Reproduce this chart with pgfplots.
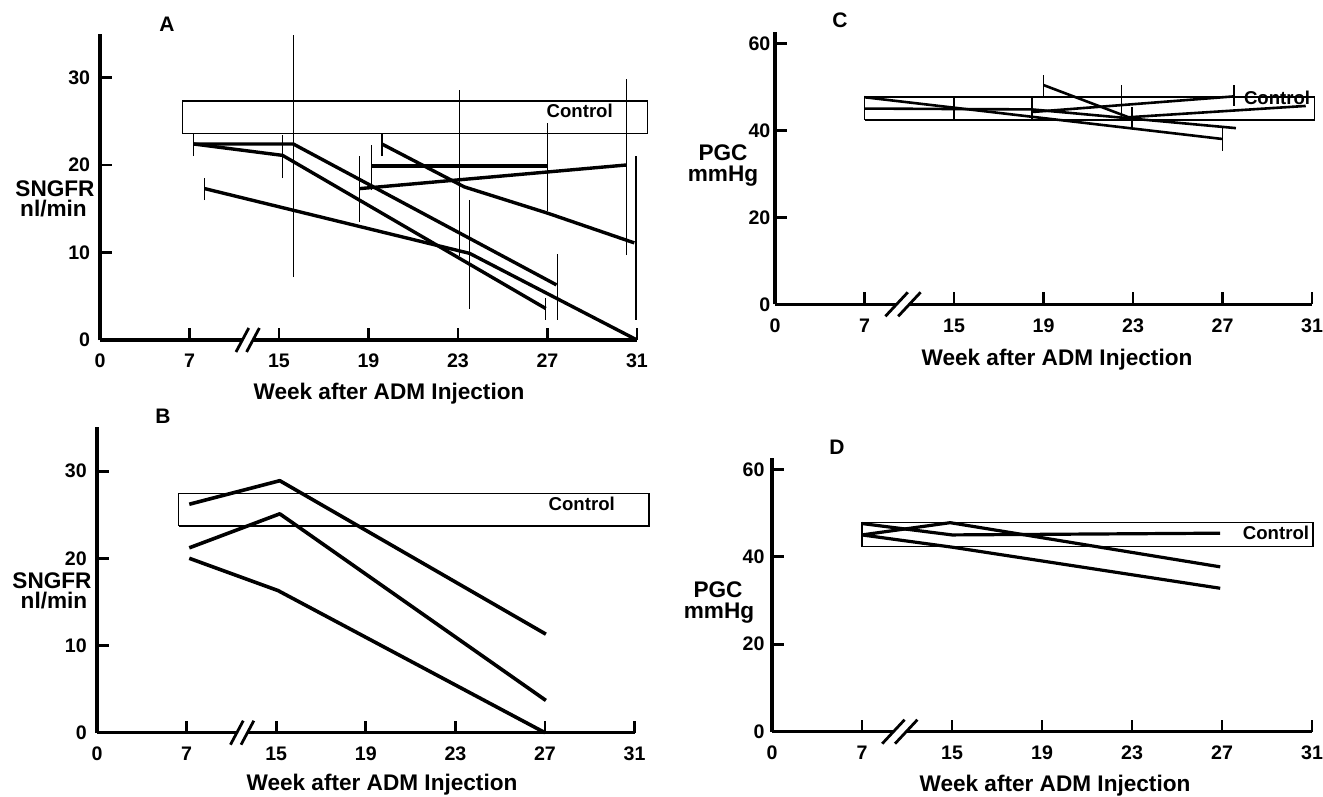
\documentclass[border=0pt]{standalone}
\usepackage{fontspec}
\setmainfont{Liberation Sans}
\usepackage{pgfplots}
\pgfplotsset{compat=1.18}

% x positions are tick slots: weeks 0,7,15,19,23,27,31 sit at x = 0..6
\pgfplotsset{
  panel/.style={
    anchor=south west, clip=false,
    xmin=0, xmax=6, ymin=0,
    axis lines=left,
    axis line style={-, line width=1.7pt},
    xtick={0,...,6}, xticklabels={0,7,15,19,23,27,31},
    tick align=inside, major tick length=6pt,
    tick style={black, line width=1.4pt},
    tick label style={font=\fontsize{9.8}{11}\selectfont\bfseries},
    xticklabel style={yshift=-3.6pt},
  },
  sng/.style={panel, ymax=35, ytick={0,10,20,30}, yticklabels={0,10,20,30}},
  pgc/.style={panel, ymax=62.5, ytick={0,20,40,60}, yticklabels={0,20,40,60}},
  data/.style={black, line width=1.7pt, line join=round, mark=none},
  bar/.style={black, line width=0.65pt, mark=none},
  ctrl/.style={black, line width=0.7pt, mark=none},
}
\tikzset{
  ctrltext/.style={font=\fontsize{9.3}{10}\selectfont\bfseries},
  lab/.style={font=\fontsize{11.3}{13}\selectfont\bfseries, anchor=base, inner sep=0pt},
  plet/.style={font=\fontsize{10.5}{12}\selectfont\bfseries},
}

\begin{document}
\begin{tikzpicture}
\useasboundingbox (0,0) rectangle (661.5pt,-398.5pt);

% ---------------- A ----------------
\begin{axis}[sng, at={(50pt,-170pt)}, x=44.75pt, y=4.375pt,
  yticklabel style={xshift=-1.4pt}]
\addplot[ctrl] coordinates {(0.92,23.6) (6.12,23.6) (6.12,27.3) (0.92,27.3) (0.92,23.6)};
\node[ctrltext] at (axis cs:5.36,26.2) {Control};
% error bars
\addplot[bar] coordinates {(1.047,21.0) (1.047,23.6)};
\addplot[bar] coordinates {(1.166,16.0) (1.166,18.5)};
\addplot[bar] coordinates {(2.04,18.5) (2.04,23.4)};
\addplot[bar] coordinates {(2.16,7.2) (2.16,34.9)};
\addplot[bar] coordinates {(2.90,13.5) (2.90,21.0)};
\addplot[bar] coordinates {(3.03,17.1) (3.03,22.3)};
\addplot[bar] coordinates {(3.15,21.0) (3.15,23.5)};
\addplot[bar] coordinates {(4.02,9.6) (4.02,28.6)};
\addplot[bar] coordinates {(4.13,3.6) (4.13,16.0)};
\addplot[bar] coordinates {(5.00,14.7) (5.00,24.8)};
\addplot[bar] coordinates {(4.98,2.3) (4.98,4.8)};
\addplot[bar] coordinates {(5.11,2.3) (5.11,9.8)};
\addplot[bar] coordinates {(5.88,9.7) (5.88,29.8)};
\addplot[bar] coordinates {(5.99,2.3) (5.99,21.0)};
% rats
\addplot[data] coordinates {(1.047,22.4) (2.16,22.4) (5.10,6.3)};
\addplot[data] coordinates {(1.047,22.4) (2.04,21.1) (4.98,3.6)};
\addplot[data] coordinates {(1.17,17.3) (4.13,9.9) (6.00,0.0)};
\addplot[data] coordinates {(2.90,17.3) (5.88,20.0)};
\addplot[data] coordinates {(3.03,19.9) (5.00,19.9)};
\addplot[data] coordinates {(3.15,22.4) (4.07,17.5) (5.00,14.5) (5.97,11.1)};
% axis break
\fill[white, shift={(axis cs:1.65,0)}] (-2.65pt,-2.2pt) rectangle (2.65pt,2.2pt);
\draw[line width=1.4pt, shift={(axis cs:1.65,0)}] (-5.85pt,-6pt) -- (0.55pt,6pt) (-0.55pt,-6pt) -- (5.85pt,6pt);
\end{axis}

% ---------------- B ----------------
\begin{axis}[sng, at={(48.5pt,-366.35pt)}, x=44.8pt, y=4.36pt,
  yticklabel style={xshift=-1.6pt}]
\addplot[ctrl] coordinates {(0.91,23.7) (6.16,23.7) (6.16,27.4) (0.91,27.4) (0.91,23.7)};
\node[ctrltext] at (axis cs:5.41,26.3) {Control};
\addplot[data, line width=1.8pt] coordinates {(1.03,26.2) (2.04,28.9) (5.01,11.3)};
\addplot[data, line width=1.8pt] coordinates {(1.03,21.2) (2.04,25.1) (5.01,3.7)};
\addplot[data, line width=1.8pt] coordinates {(1.03,20.0) (2.02,16.3) (5.00,0.0)};
\fill[white, shift={(axis cs:1.62,0)}] (-2.65pt,-2.2pt) rectangle (2.65pt,2.2pt);
\draw[line width=1.4pt, shift={(axis cs:1.62,0)}] (-5.85pt,-6pt) -- (0.55pt,6pt) (-0.55pt,-6pt) -- (5.85pt,6pt);
\end{axis}

% ---------------- C ----------------
\begin{axis}[pgc, at={(387.5pt,-152.15pt)}, x=44.75pt, y=2.175pt,
  yticklabel style={xshift=1.2pt}]
\addplot[ctrl] coordinates {(1.0,42.4) (6.03,42.4) (6.03,47.7) (1.0,47.7) (1.0,42.4)};
\node[ctrltext] at (axis cs:5.61,47.5) {Control};
\addplot[bar] coordinates {(2.00,42.4) (2.00,47.7)};
\addplot[bar] coordinates {(2.87,42.4) (2.87,47.7)};
\addplot[bar] coordinates {(3.00,47.6) (3.00,52.7)};
\addplot[bar] coordinates {(3.87,42.9) (3.87,50.4)};
\addplot[bar] coordinates {(3.99,40.5) (3.99,45.4)};
\addplot[bar] coordinates {(5.00,35.3) (5.00,40.5)};
\addplot[bar] coordinates {(5.13,45.6) (5.13,50.4)};
\addplot[data, line width=1.3pt] coordinates {(1.00,47.6) (5.00,38.0)};
\addplot[data, line width=1.3pt] coordinates {(1.00,45.0) (2.87,44.8) (5.15,40.5)};
\addplot[data, line width=1.3pt] coordinates {(3.00,50.4) (3.95,43.0) (5.93,45.6)};
\addplot[data, line width=1.3pt] coordinates {(2.87,44.2) (5.13,47.8)};
\fill[white, shift={(axis cs:1.43,0)}] (-3.2pt,-2.2pt) rectangle (3.2pt,2.2pt);
\draw[line width=1.4pt, shift={(axis cs:1.43,0)}] (-8.8pt,-6pt) -- (2.4pt,6pt) (-2.4pt,-6pt) -- (8.8pt,6pt);
\end{axis}

% ---------------- D ----------------
\begin{axis}[pgc, at={(386pt,-365.85pt)}, x=45pt, y=2.1865pt,
  yticklabel style={xshift=-0.2pt}]
\addplot[ctrl] coordinates {(1.0,42.3) (6.01,42.3) (6.01,47.8) (1.0,47.8) (1.0,42.3)};
\node[ctrltext] at (axis cs:5.60,45.4) {Control};
\addplot[data, line width=1.6pt] coordinates {(1.00,45.0) (1.98,47.8) (4.98,37.7)};
\addplot[data, line width=1.6pt] coordinates {(1.00,47.6) (2.00,45.0) (4.98,45.4)};
\addplot[data, line width=1.6pt] coordinates {(1.00,45.0) (2.00,42.2) (4.98,32.8)};
\fill[white, shift={(axis cs:1.42,0)}] (-3.2pt,-2.2pt) rectangle (3.2pt,2.2pt);
\draw[line width=1.4pt, shift={(axis cs:1.42,0)}] (-8.8pt,-6pt) -- (2.4pt,6pt) (-2.4pt,-6pt) -- (8.8pt,6pt);
\end{axis}

% panel letters
\node[plet] at (83.5pt,-12pt) {A};
\node[plet] at (81.5pt,-208pt) {B};
\node[plet] at (420pt,-10pt) {C};
\node[plet] at (418.5pt,-223.5pt) {D};

% y labels
\node[lab] at (27.5pt,-98.35pt) {SNGFR};
\node[lab] at (26.75pt,-108.2pt) {nl/min};
\node[lab] at (26pt,-294.15pt) {SNGFR};
\node[lab] at (27pt,-304.35pt) {nl/min};
\node[lab] at (361.5pt,-80.4pt) {PGC};
\node[lab] at (361.5pt,-91pt) {mmHg};
\node[lab] at (359pt,-298.8pt) {PGC};
\node[lab] at (359.5pt,-309.2pt) {mmHg};

% x labels
\node[lab] at (194.5pt,-199.5pt) {Week after ADM Injection};
\node[lab] at (191pt,-395pt) {Week after ADM Injection};
\node[lab] at (528.5pt,-182.5pt) {Week after ADM Injection};
\node[lab] at (527.5pt,-395.85pt) {Week after ADM Injection};
\end{tikzpicture}
\end{document}
